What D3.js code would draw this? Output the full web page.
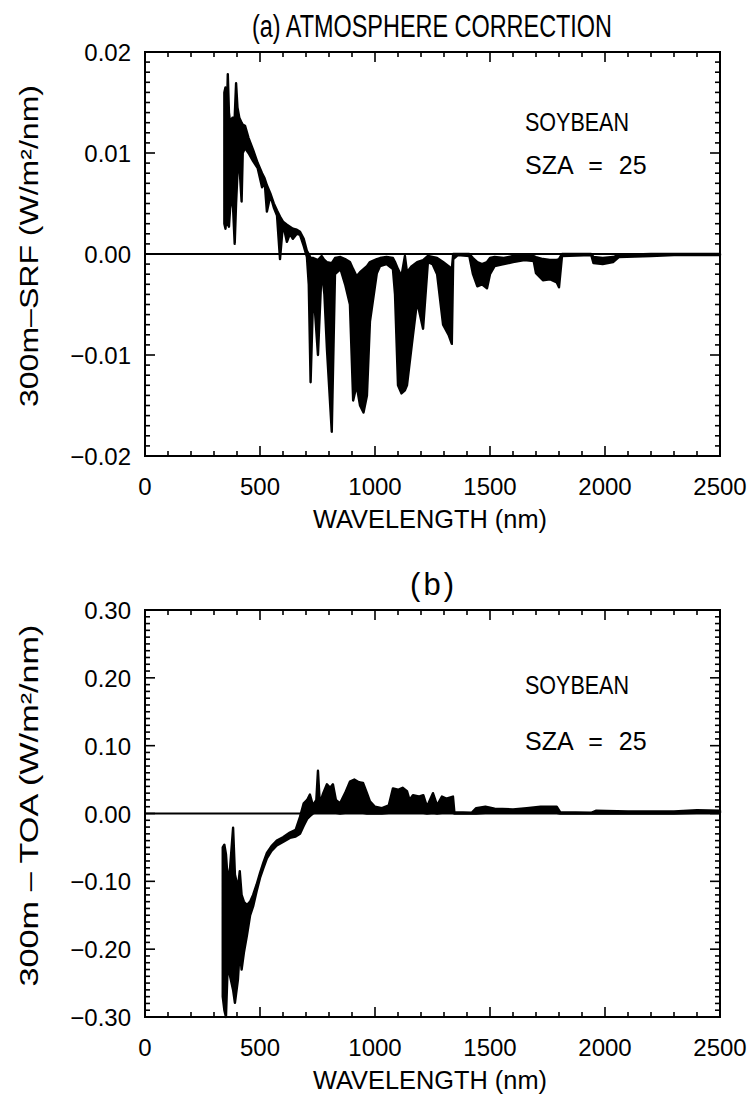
<!DOCTYPE html>
<html>
<head>
<meta charset="utf-8">
<script src="https://cdn.jsdelivr.net/npm/d3@7"></script>
<style>
  body { margin: 0; background: #fff; }
  text { font-family: "Liberation Sans", Arial, sans-serif; fill: #000; }
</style>
</head>
<body>
<div id="chart"></div>
<script>
var wlA = [345, 350, 355, 360, 365, 370, 380, 390, 396, 402, 410, 420, 425, 435, 450, 470, 490, 509, 520, 530,
           545, 560, 574, 587, 600, 617, 630, 643, 660, 674, 690, 704, 712, 720, 732, 752, 768, 780, 791, 812,
           826, 850, 870, 891, 905, 920, 935, 950, 965, 978, 1008, 1022, 1050, 1078, 1087, 1100, 1115, 1130, 1139, 1160,
           1183, 1209, 1230, 1250, 1270, 1296, 1320, 1334, 1340, 1360, 1410, 1426, 1445, 1465, 1487, 1500, 1520, 1560, 1600, 1650,
           1690, 1700, 1730, 1760, 1790, 1800, 1813, 1940, 1950, 1990, 2035, 2060, 2200, 2300, 2500];
var loA = [0.0030, 0.0025, 0.0040, 0.0030, 0.0027, 0.0045, 0.0060, 0.0010, 0.0050, 0.0080, 0.0090, 0.0052, 0.0100, 0.0105, 0.0100, 0.0092, 0.0085, 0.0066, 0.0072, 0.0042,
           0.0058, 0.0046, 0.0038, -0.0005, 0.0030, 0.0012, 0.0020, 0.0015, 0.0020, 0.0019, 0.0008, -0.0003, -0.0030, -0.0127, -0.0033, -0.0100, -0.0015, -0.0040, -0.0094, -0.0176,
           -0.0020, -0.0015, -0.0030, -0.0050, -0.0145, -0.0130, -0.0150, -0.0157, -0.0140, -0.0067, -0.0019, -0.0012, -0.0010, -0.0015, -0.0040, -0.0130, -0.0138, -0.0135, -0.0130, -0.0090,
           -0.0047, -0.0074, -0.0008, -0.0010, -0.0020, -0.0070, -0.0080, -0.0089, -0.0005, -0.0001, -0.0002, -0.0020, -0.0032, -0.0030, -0.0034, -0.0020, -0.0012, -0.0010, -0.0008, -0.0006,
           -0.0007, -0.0019, -0.0026, -0.0025, -0.0028, -0.0033, -0.0002, -0.0001, -0.0009, -0.0010, -0.0008, -0.0003, -0.0002, -0.0001, -0.0001];
var hiA = [0.0160, 0.0165, 0.0130, 0.0178, 0.0140, 0.0130, 0.0135, 0.0135, 0.0169, 0.0145, 0.0135, 0.0130, 0.0128, 0.0127, 0.0115, 0.0103, 0.0090, 0.0080, 0.0075, 0.0068,
           0.0060, 0.0050, 0.0043, 0.0037, 0.0032, 0.0029, 0.0027, 0.0025, 0.0024, 0.0022, 0.0015, 0.0003, 0.0000, -0.0004, -0.0004, -0.0006, -0.0002, -0.0006, -0.0008, -0.0009,
           -0.0004, -0.0003, -0.0005, -0.0008, -0.0015, -0.0022, -0.0018, -0.0015, -0.0012, -0.0008, -0.0005, -0.0004, -0.0003, -0.0004, -0.0008, -0.0015, -0.0022, -0.0002, -0.0018, -0.0012,
           -0.0008, -0.0006, -0.0002, -0.0003, -0.0004, -0.0008, -0.0012, -0.0015, 0.0000, 0.0000, 0.0000, -0.0004, -0.0008, -0.0010, -0.0008, -0.0004, -0.0003, -0.0004, -0.0002, -0.0002,
           -0.0002, -0.0003, -0.0005, -0.0006, -0.0006, -0.0005, 0.0000, 0.0000, -0.0003, -0.0004, -0.0003, -0.0001, 0.0000, 0.0000, 0.0000];

// panel (b): 300m - TOA
var wlB = [338, 345, 352, 360, 370, 383, 391, 404, 412, 420, 430, 443, 457, 470, 485, 500, 515, 530, 550, 573,
           600, 630, 655, 674, 690, 705, 717, 730, 745, 752, 760, 775, 791, 805, 817, 830, 848, 870, 891, 910,
           930, 948, 965, 978, 1000, 1030, 1060, 1078, 1100, 1120, 1139, 1150, 1165, 1190, 1210, 1226, 1252, 1270, 1291, 1310,
           1339, 1345, 1420, 1440, 1480, 1520, 1600, 1660, 1720, 1790, 1805, 1940, 1960, 2100, 2300, 2400, 2500];
var loB = [-0.270, -0.290, -0.300, -0.220, -0.240, -0.260, -0.279, -0.245, -0.200, -0.230, -0.205, -0.180, -0.150, -0.137, -0.115, -0.095, -0.080, -0.066, -0.055, -0.047,
           -0.042, -0.036, -0.034, -0.030, -0.018, -0.008, -0.004, 0.000, 0.002, 0.002, 0.003, 0.002, 0.001, 0.002, 0.002, 0.001, 0.000, 0.001, 0.002, 0.003,
           0.002, 0.001, 0.000, 0.000, 0.000, 0.000, 0.001, 0.002, 0.003, 0.002, 0.001, 0.001, 0.001, 0.002, 0.001, 0.000, 0.001, 0.000, 0.001, 0.002,
           0.001, 0.000, 0.000, 0.000, 0.001, 0.001, 0.001, 0.001, 0.001, 0.001, 0.000, 0.000, 0.000, 0.000, 0.000, 0.001, 0.001];
var hiB = [-0.050, -0.046, -0.060, -0.100, -0.080, -0.021, -0.090, -0.110, -0.085, -0.120, -0.130, -0.135, -0.130, -0.120, -0.105, -0.088, -0.072, -0.058, -0.048, -0.040,
           -0.035, -0.028, -0.024, -0.005, 0.015, 0.020, 0.028, 0.012, 0.020, 0.063, 0.015, 0.030, 0.043, 0.038, 0.043, 0.020, 0.015, 0.030, 0.047, 0.050,
           0.046, 0.045, 0.030, 0.018, 0.010, 0.008, 0.012, 0.037, 0.035, 0.038, 0.033, 0.020, 0.027, 0.025, 0.027, 0.010, 0.030, 0.012, 0.025, 0.022,
           0.025, 0.002, 0.001, 0.008, 0.010, 0.007, 0.006, 0.008, 0.010, 0.010, 0.002, 0.001, 0.004, 0.003, 0.003, 0.005, 0.004];

var xTicks = [0, 500, 1000, 1500, 2000, 2500];
var yTicksA = [-0.02, -0.01, 0.00, 0.01, 0.02];
var yTicksB = [-0.30, -0.20, -0.10, 0.00, 0.10, 0.20, 0.30];

var width = 755, height = 1096;

var svg = d3.select("#chart").append("svg")
    .attr("width", width)
    .attr("height", height);

var x = d3.scaleLinear().domain([0, 2500]).range([145, 720]);

var drawPanel = function(p) {
  var y = d3.scaleLinear().domain(p.domain).range([p.bottom, p.top]);
  var g = svg.append("g");
  var data = p.wl.map(function(w, i) { return {w: w, lo: p.lo[i], hi: p.hi[i]}; });
  var x0 = x(0), x1 = x(2500);

  // the spectrum, filled between low and high so dense spikes read as black bands
  g.append("path")
    .datum(data)
    .attr("fill", "#000")
    .attr("stroke", "#000")
    .attr("stroke-width", 2.4)
    .attr("stroke-linejoin", "round")
    .attr("d", d3.area()
      .x(function(d) { return x(d.w); })
      .y0(function(d) { return y(d.lo); })
      .y1(function(d) { return y(d.hi); }));

  // zero line
  g.append("line")
    .attr("x1", x0).attr("x2", x1)
    .attr("y1", y(0)).attr("y2", y(0))
    .attr("stroke", "#000").attr("stroke-width", 2);

  // box
  g.append("rect")
    .attr("x", x0).attr("y", p.top)
    .attr("width", x1 - x0).attr("height", p.bottom - p.top)
    .attr("fill", "none").attr("stroke", "#000").attr("stroke-width", 2);

  // inward ticks on all four sides, IDL style
  var minorX = d3.range(0, 2501, 100);
  var minorY = d3.range(0, p.nMinor + 1).map(function(i) {
    return p.domain[0] + (p.domain[1] - p.domain[0]) * i / p.nMinor;
  });
  var tickSet = [];
  minorX.forEach(function(v) {
    var len = xTicks.indexOf(v) >= 0 ? 10 : 5;
    tickSet.push([x(v), p.bottom, x(v), p.bottom - len]);
    tickSet.push([x(v), p.top, x(v), p.top + len]);
  });
  minorY.forEach(function(v, i) {
    var len = i % 10 === 0 ? 10 : 5;
    tickSet.push([x0, y(v), x0 + len, y(v)]);
    tickSet.push([x1, y(v), x1 - len, y(v)]);
  });
  g.selectAll("line.tick").data(tickSet).enter().append("line")
    .attr("class", "tick")
    .attr("x1", function(d) { return d[0]; }).attr("y1", function(d) { return d[1]; })
    .attr("x2", function(d) { return d[2]; }).attr("y2", function(d) { return d[3]; })
    .attr("stroke", "#000").attr("stroke-width", 1.6);

  var fmt = d3.format(".2f");
  g.selectAll("text.xl").data(xTicks).enter().append("text")
    .attr("class", "xl")
    .attr("x", function(d) { return x(d); })
    .attr("y", p.bottom + 39)
    .attr("text-anchor", "middle")
    .attr("font-family", "'DejaVu Sans', sans-serif")
    .attr("font-size", 24)
    .text(function(d) { return d; });

  g.selectAll("text.yl").data(p.ticks).enter().append("text")
    .attr("class", "yl")
    .attr("x", x0 - 14)
    .attr("y", function(d) { return y(d) + 9; })
    .attr("text-anchor", "end")
    .attr("font-family", "'DejaVu Sans', sans-serif")
    .attr("font-size", 24)
    .text(function(d) { return fmt(d); });

  g.append("text")
    .attr("x", 430).attr("y", p.bottom + 72)
    .attr("text-anchor", "middle")
    .attr("font-size", 26)
    .attr("textLength", 234).attr("lengthAdjust", "spacingAndGlyphs")
    .text("WAVELENGTH (nm)");

  g.append("text")
    .attr("transform", "translate(38," + ((p.top + p.bottom) / 2 - 8) + ") rotate(-90)")
    .attr("text-anchor", "middle")
    .attr("font-size", 26)
    .attr("textLength", p.yLen).attr("lengthAdjust", "spacingAndGlyphs")
    .text(p.yLabel);

  g.append("text")
    .attr("x", 432).attr("y", p.top - 15)
    .attr("text-anchor", "middle")
    .attr("font-size", 31)
    .attr("textLength", p.titleLen).attr("lengthAdjust", p.titleAdj)
    .text(p.title);

  g.append("text").attr("x", 525).attr("y", p.noteY)
    .attr("font-size", 25).attr("textLength", 104).attr("lengthAdjust", "spacingAndGlyphs")
    .text("SOYBEAN");
  g.append("text").attr("x", 525).attr("y", p.noteY + p.noteGap)
    .attr("font-size", 25).attr("word-spacing", 9)
    .text("SZA = 25");
};

drawPanel({
  wl: wlA, lo: loA, hi: hiA,
  domain: [-0.02, 0.02], ticks: yTicksA, nMinor: 40,
  top: 52, bottom: 456,
  yLabel: "300m\u2013SRF (W/m\u00b2/nm)", yLen: 322,
  title: "(a) ATMOSPHERE CORRECTION", titleLen: 360, titleAdj: "spacingAndGlyphs",
  noteY: 131, noteGap: 43
});

drawPanel({
  wl: wlB, lo: loB, hi: hiB,
  domain: [-0.30, 0.30], ticks: yTicksB, nMinor: 60,
  top: 610, bottom: 1017,
  yLabel: "300m \u2013 TOA (W/m\u00b2/nm)", yLen: 362,
  title: "(b)", titleLen: 44, titleAdj: "spacing",
  noteY: 694, noteGap: 56
});
</script>
</body>
</html>
